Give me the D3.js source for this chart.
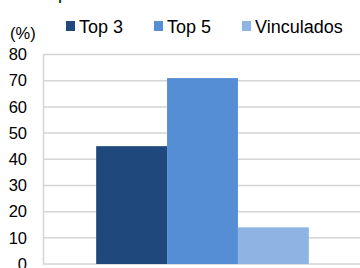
<!DOCTYPE html>
<html>
<head>
<meta charset="utf-8">
<script src="https://cdn.jsdelivr.net/npm/d3@7"></script>
<style>
  body { margin: 0; background: #fff; }
  svg { display: block; font-family: "Liberation Sans", Arial, sans-serif; }
</style>
</head>
<body>
<div class="chart"></div>
<script>
// data
var categories = ["Clientes"];
var series = ["Top 3", "Top 5", "Vinculados"];
var values = [45, 71, 14];
var colors = ["#1F497D", "#558ED5", "#8EB4E3"];
var yTicks = [0, 10, 20, 30, 40, 50, 60, 70, 80];

var width = 360, height = 268;
var margin = { top: 54.5, right: -2, bottom: 4, left: 43 };

var svg = d3.select(".chart")
  .append("svg")
  .attr("width", width)
  .attr("height", height);

// title, mostly outside the top of the frame
svg.append("text")
  .attr("x", 8)
  .attr("y", -1)
  .attr("font-size", "18px")
  .attr("fill", "#000")
  .text("Participación de clientes");

var x0 = d3.scaleBand()
  .domain(categories)
  .range([margin.left, width - margin.right])
  .paddingInner(0)
  .paddingOuter(0.25);

var x1 = d3.scaleBand()
  .domain(series)
  .range([0, x0.bandwidth()])
  .padding(0);

var y = d3.scaleLinear()
  .domain([0, 80])
  .range([height - margin.bottom, margin.top]);

// gridlines
svg.append("g")
  .selectAll("line")
  .data(yTicks)
  .enter()
  .append("line")
  .attr("x1", margin.left)
  .attr("x2", width)
  .attr("y1", function(d) { return y(d); })
  .attr("y2", function(d) { return y(d); })
  .attr("stroke", "#d4d4d4")
  .attr("stroke-width", 1.5);

// left axis
var yAxis = svg.append("g")
  .attr("transform", "translate(" + margin.left + ",0)")
  .call(d3.axisLeft(y).tickValues(yTicks).tickSize(0).tickPadding(16));
yAxis.select(".domain").attr("stroke", "#d4d4d4").attr("stroke-width", 1.5);
yAxis.selectAll("text")
  .attr("font-size", "16.5px")
  .attr("font-family", "Liberation Sans, Arial, sans-serif")
  .attr("fill", "#000");

// bars
svg.append("g")
  .selectAll("rect")
  .data(series)
  .enter()
  .append("rect")
  .attr("x", function(d) { return x0(categories[0]) + x1(d); })
  .attr("width", x1.bandwidth())
  .attr("y", function(d, i) { return y(values[i]); })
  .attr("height", function(d, i) { return y(0) - y(values[i]); })
  .attr("fill", function(d, i) { return colors[i]; });

// unit label
svg.append("text")
  .attr("x", 10)
  .attr("y", 39)
  .attr("font-size", "16.5px")
  .attr("fill", "#000")
  .text("(%)");

// legend
var legendX = [66, 154, 242];
var legend = svg.append("g")
  .selectAll("g")
  .data(series)
  .enter()
  .append("g")
  .attr("transform", function(d, i) { return "translate(" + legendX[i] + ",21)"; });

legend.append("rect")
  .attr("width", 9)
  .attr("height", 10)
  .attr("fill", function(d, i) { return colors[i]; });

legend.append("text")
  .attr("x", 13)
  .attr("y", 12)
  .attr("font-size", "18px")
  .attr("fill", "#000")
  .text(function(d) { return d; });
</script>
</body>
</html>
